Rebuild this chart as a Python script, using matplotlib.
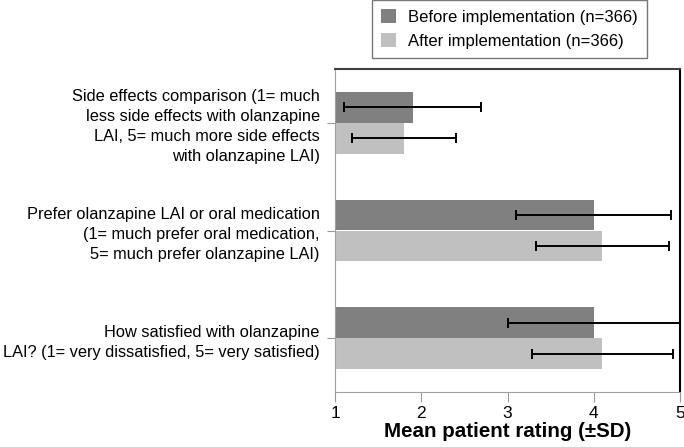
import numpy as np
import matplotlib.pyplot as plt

plt.rcParams['font.family'] = ['Liberation Sans', 'DejaVu Sans']

kategorije = [
    'Side effects comparison (1= much\nless side effects with olanzapine\nLAI, 5= much more side effects\nwith olanzapine LAI)',
    'Prefer olanzapine LAI or oral medication\n(1= much prefer oral medication,\n5= much prefer olanzapine LAI)',
    'How satisfied with olanzapine\nLAI? (1= very dissatisfied, 5= very satisfied)',
]
prije = [1.9, 4.0, 4.0]
prije_sd = [0.79, 0.9, 1.0]
poslije = [1.8, 4.1, 4.1]
poslije_sd = [0.6, 0.77, 0.82]
oznake = ['Before implementation (n=366)', 'After implementation (n=366)']
xtickovi = [1, 2, 3, 4, 5]

fig = plt.figure(figsize=(6.84, 4.47), dpi=100)
ax = fig.add_axes([335/684, 1 - 392/447, 345/684, 323/447])

y = np.arange(len(kategorije)) + 0.5
h = 0.285
ax.barh(y - h/2, np.array(prije) - 1, left=1, height=h, color='#808080', label=oznake[0])
ax.barh(y + h/2, np.array(poslije) - 1, left=1, height=h, color='#c0c0c0', label=oznake[1])
ax.errorbar(prije, y - h/2, xerr=prije_sd, fmt='none', ecolor='black', elinewidth=1.4, capsize=3.5, capthick=1.4)
ax.errorbar(poslije, y + h/2, xerr=poslije_sd, fmt='none', ecolor='black', elinewidth=1.4, capsize=3.5, capthick=1.4)

ax.set_xlim(1, 5)
ax.set_ylim(3, 0)
ax.set_xticks(xtickovi)
ax.set_xticklabels([str(x) for x in xtickovi], fontsize=12.5)
ax.set_yticks(y)
ax.set_yticklabels(kategorije, fontsize=11.8, linespacing=1.42, ha='right')
ax.tick_params(axis='y', length=6, color='#999999', pad=5)
ax.tick_params(axis='x', length=7, color='#999999', pad=3)
ax.set_xlabel('Mean patient rating (±SD)', fontsize=14.8, fontweight='bold', labelpad=1)

ax.spines['left'].set_color('#a0a0a0')
ax.spines['bottom'].set_color('#a0a0a0')
ax.spines['top'].set_color('#404040')
ax.spines['top'].set_linewidth(1.5)
ax.spines['right'].set_color('black')
ax.spines['right'].set_linewidth(1.5)

leg = fig.legend(loc='upper left', bbox_to_anchor=(372/684, 1.0), borderaxespad=0, fontsize=12,
                 frameon=True, fancybox=False, edgecolor='#555555', handlelength=0.9,
                 handleheight=0.9, borderpad=0.55, labelspacing=0.5, handletextpad=0.7)
leg.get_frame().set_linewidth(1.0)

fig.savefig('out.png', dpi=100)
